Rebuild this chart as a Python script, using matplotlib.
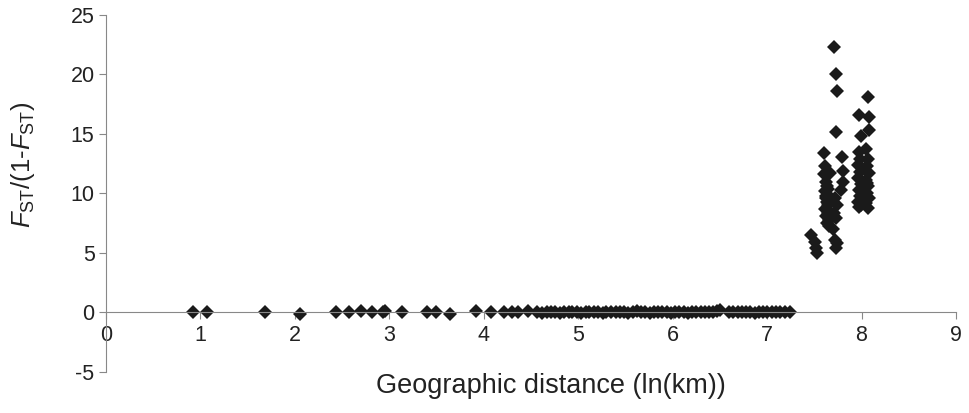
import matplotlib
matplotlib.use("Agg")
import matplotlib.pyplot as plt

plt.rcParams["font.family"] = ["Liberation Sans", "DejaVu Sans"]
plt.rcParams["mathtext.fontset"] = "custom"
plt.rcParams["mathtext.rm"] = "Liberation Sans"
plt.rcParams["mathtext.it"] = "Liberation Sans:italic"
plt.rcParams["axes.unicode_minus"] = False

# pairs within the same region (near-zero Fst)
near_x = [0.92, 1.07, 1.69, 2.06, 2.44, 2.57, 2.70, 2.82, 2.93, 2.96,
          3.14, 3.40, 3.50, 3.64, 3.92, 4.08, 4.22, 4.30, 4.36, 4.47,
          4.56, 4.62, 4.67, 4.71, 4.76, 4.81, 4.85, 4.90, 4.94, 4.99,
          5.03, 5.08, 5.12, 5.17, 5.21, 5.26, 5.30, 5.35, 5.40, 5.44,
          5.49, 5.53, 5.58, 5.62, 5.67, 5.71, 5.76, 5.80, 5.85, 5.89,
          5.94, 5.98, 6.03, 6.07, 6.12, 6.16, 6.21, 6.25, 6.30, 6.34,
          6.39, 6.43, 6.47, 6.50, 6.60, 6.64, 6.69, 6.73, 6.78, 6.82,
          6.87, 6.91, 6.96, 7.00, 7.05, 7.09, 7.14, 7.19, 7.24]
near_y = [0.0, 0.0, 0.0, -0.15, 0.0, 0.0, 0.12, 0.0, 0.08, 0.1,
          0.0, 0.0, 0.0, -0.12, 0.1, 0.0, 0.0, 0.0, 0.0, 0.1,
          0.0, -0.05, 0.0, 0.05, 0.0, -0.05, 0.0, 0.05, 0.0, 0.0,
          -0.05, 0.0, 0.05, 0.0, 0.0, -0.05, 0.0, 0.0, 0.05, 0.0,
          0.0, -0.05, 0.0, 0.1, 0.0, 0.0, -0.05, 0.05, 0.0, 0.0,
          0.0, -0.05, 0.0, 0.05, 0.0, -0.05, 0.0, 0.0, 0.05, 0.0,
          0.0, 0.05, 0.1, 0.25, 0.05, 0.0, 0.0, 0.05, 0.0, 0.0,
          -0.05, 0.0, 0.0, 0.05, 0.0, 0.0, 0.0, 0.0, 0.0]

# pairs between distant regions
far_x = [7.47, 7.51, 7.52, 7.53,
         7.60, 7.61, 7.60, 7.62, 7.63, 7.61, 7.64, 7.62, 7.63, 7.65, 7.61,
         7.64, 7.62, 7.66, 7.63, 7.64, 7.62, 7.65, 7.63, 7.64, 7.66,
         7.67, 7.71, 7.73, 7.74, 7.73, 7.79, 7.80, 7.80, 7.78, 7.72,
         7.74, 7.71, 7.73, 7.70, 7.72, 7.73, 7.74,
         7.97, 8.07, 8.08, 7.99, 8.08, 7.97, 8.05, 7.98, 8.07, 7.96,
         8.06, 7.98, 8.08, 7.96, 8.05, 7.99, 8.07, 7.97, 8.06, 7.98,
         8.08, 7.96, 8.05, 7.99, 8.07, 7.97, 8.06]
far_y = [6.5, 5.9, 5.4, 5.0,
         13.4, 12.3, 11.6, 11.0, 10.6, 10.2, 9.9, 9.6, 9.3, 9.0, 8.7,
         8.4, 8.1, 7.8, 7.5, 10.4, 9.8, 9.2, 8.6, 8.0, 7.3,
         11.7, 22.3, 20.0, 18.6, 15.2, 13.1, 11.9, 11.0, 10.3, 9.6,
         9.0, 8.4, 7.9, 7.0, 6.1, 5.4, 5.8,
         16.6, 18.1, 16.4, 14.8, 15.3, 13.5, 13.7, 12.9, 12.9, 12.4,
         12.3, 11.8, 11.7, 11.3, 11.1, 10.8, 10.6, 10.3, 10.0, 9.8,
         9.6, 9.3, 9.2, 9.0, 8.8, 8.9, 10.9]

x_ticks = [0, 1, 2, 3, 4, 5, 6, 7, 8, 9]
y_ticks = [-5, 0, 5, 10, 15, 20, 25]

fig = plt.figure(figsize=(9.7, 4.13), dpi=100)
ax = fig.add_axes([0.109, 0.0993, 0.8766, 0.8644])

ax.plot(near_x + far_x, near_y + far_y, linestyle="none", marker="D",
        markersize=7.5, color="#1a1a1a", markeredgewidth=0)

ax.set_xlim(0, 9)
ax.set_ylim(-5, 25)
ax.set_xticks(x_ticks)
ax.set_yticks(y_ticks)

for s in ["top", "right"]:
    ax.spines[s].set_visible(False)
ax.spines["bottom"].set_position(("data", 0))
ax.spines["bottom"].set_color("#888888")
ax.spines["left"].set_color("#888888")
ax.tick_params(axis="both", colors="#888888", labelcolor="#222222",
               labelsize=15.5, length=5, direction="out")
ax.tick_params(axis="x", pad=4)
ax.tick_params(axis="y", pad=3)

fig.text(0.024, 0.60, r"$F_{\mathrm{ST}}/(1$-$F_{\mathrm{ST}})$", fontsize=18.5,
         color="#222222", rotation=90, ha="center", va="center")
fig.text(0.568, 0.065, "Geographic distance (ln(km))", fontsize=19.5,
         color="#222222", ha="center", va="center")

fig.savefig("out.png", dpi=100)
